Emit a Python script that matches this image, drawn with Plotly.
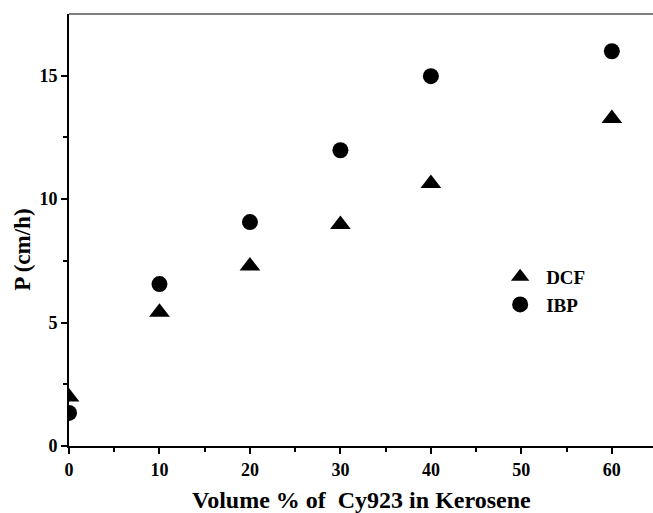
import plotly.graph_objects as go

x_vals = [0, 10, 20, 30, 40, 60]
dcf = [1.98, 5.42, 7.29, 8.97, 10.63, 13.27]
ibp = [1.34, 6.56, 9.07, 11.98, 14.98, 15.99]
x_ticks = [0, 10, 20, 30, 40, 50, 60]
y_ticks = [0, 5, 10, 15]

font_family = "Liberation Serif"

fig = go.Figure()
fig.add_trace(go.Scatter(x=x_vals, y=dcf, mode="markers", name="<b>DCF</b>",
                         marker=dict(symbol="triangle-up", size=18, color="black")))
fig.add_trace(go.Scatter(x=x_vals, y=ibp, mode="markers", name="<b>IBP</b>",
                         marker=dict(symbol="circle", size=16, color="black")))

fig.update_layout(
    width=653, height=513,
    margin=dict(l=69, r=0, t=14, b=67),
    paper_bgcolor="white", plot_bgcolor="white",
    font=dict(family=font_family, color="black"),
    showlegend=True,
    legend=dict(x=0.728, y=0.359, xanchor="left", yanchor="middle",
                font=dict(size=19, family=font_family, color="black"),
                bgcolor="rgba(0,0,0,0)", tracegroupgap=0, itemwidth=42),
    xaxis=dict(range=[0, 64.55], showgrid=False, zeroline=False,
               showline=True, linecolor="black", linewidth=2,
               ticks="outside", ticklen=6, tickwidth=2, tickcolor="black",
               tickmode="array", tickvals=x_ticks,
               ticktext=["<b>%d</b>" % v for v in x_ticks],
               tickfont=dict(size=18, family=font_family),
               minor=dict(tickvals=[5, 15, 25, 35, 45, 55], ticks="outside", ticklen=4, tickwidth=2, tickcolor="black")),
    yaxis=dict(range=[0, 17.5], showgrid=False, zeroline=False,
               showline=True, linecolor="black", linewidth=2,
               ticks="outside", ticklen=6, tickwidth=2, tickcolor="black",
               tickmode="array", tickvals=y_ticks,
               ticktext=["<b>%d</b>" % v for v in y_ticks],
               tickfont=dict(size=18, family=font_family),
               minor=dict(tickvals=[2.5, 7.5, 12.5], ticks="outside", ticklen=4, tickwidth=2, tickcolor="black")),
)
fig.add_annotation(text="<b>Volume % of  Cy923 in Kerosene</b>", xref="paper", yref="paper",
                   x=0.5, y=-0.125, xanchor="center", yanchor="middle", showarrow=False,
                   font=dict(size=24, family=font_family, color="black"))
fig.add_annotation(text="<b>P (cm/h)</b>", xref="paper", yref="paper",
                   x=-0.0788, y=0.454, xanchor="center", yanchor="middle", showarrow=False,
                   textangle=-90, font=dict(size=23, family=font_family, color="black"))
fig.add_shape(type="line", xref="paper", yref="paper", x0=0, x1=1, y0=1, y1=1,
              line=dict(color="#555555", width=1.5))

fig.write_html("out.html")
